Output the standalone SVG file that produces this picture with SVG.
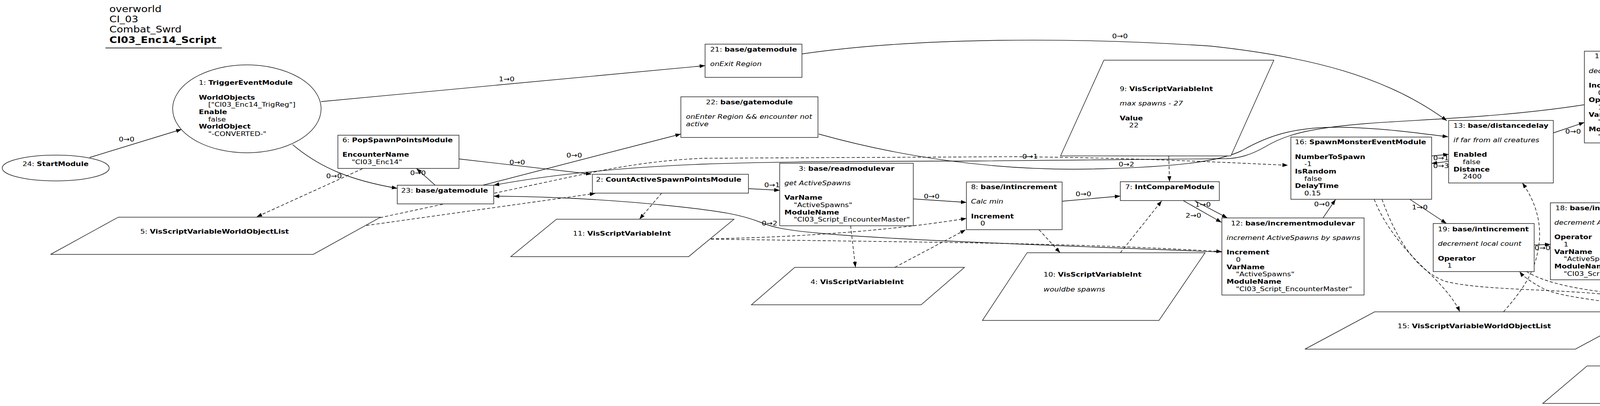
<svg xmlns="http://www.w3.org/2000/svg" width="4527" height="1039" viewBox="0 0 4527 1039">
<style>
.t{font-family:"DejaVu Sans","Liberation Sans",sans-serif;font-size:16px;fill:#000}
.b{font-weight:bold}
.i{font-style:italic}
.m{text-anchor:middle}
.ttl{font-family:"DejaVu Sans","Liberation Sans",sans-serif;font-size:22.5px;fill:#000}
.n{fill:#fff;stroke:#222;stroke-width:1.5}
.e{fill:none;stroke:#000;stroke-width:1.4}
.d{fill:none;stroke:#000;stroke-width:1.4;stroke-dasharray:8,5}
</style>
<defs>
<marker id="ah" markerUnits="userSpaceOnUse" markerWidth="15" markerHeight="11" refX="14" refY="5" orient="auto">
<path d="M0,0 L14,5 L0,10 z" fill="#000"/>
</marker>
</defs>
<rect x="0" y="0" width="4527" height="1039" fill="#fff"/>

<g id="title">
<text class="ttl" transform="translate(280,30.5) scale(1.19,1)"><tspan x="0" y="0">overworld</tspan><tspan x="0" y="26.5">CI_03</tspan><tspan x="0" y="53">Combat_Swrd</tspan><tspan x="0" y="79.5" class="b">CI03_Enc14_Script</tspan></text>
<line x1="270" y1="122.7" x2="568" y2="122.7" stroke="#555" stroke-width="2.5"/>
</g>

<g id="edges">
<path class="e" d="M229.6,403 L465,331" marker-end="url(#ah)"/>
<path class="e" d="M822,260 L1805,168" marker-end="url(#ah)"/>
<path class="e" d="M749,370 C820,430 900,462 1017,482" marker-end="url(#ah)"/>
<path class="e" d="M1114,474 L1066,431" marker-end="url(#ah)"/>
<path class="e" d="M1175,406.7 L1514,445.7" marker-end="url(#ah)"/>
<path class="e" d="M1236,474 L1743,343" marker-end="url(#ah)"/>
<path class="e" d="M1916,482.7 L1996,487" marker-end="url(#ah)"/>
<path class="e" d="M2338,509 L2474,518" marker-end="url(#ah)"/>
<path class="e" d="M2719,515 L2868,501.7" marker-end="url(#ah)"/>
<path class="e" d="M3058,513.3 L3142,557.7" marker-end="url(#ah)"/>
<path class="e" d="M3029,513.3 L3127,569" marker-end="url(#ah)"/>
<path class="e" d="M3387,557.7 L3419,510.5" marker-end="url(#ah)"/>
<path class="e" d="M3665,399 L3708.5,395" marker-end="url(#ah)"/>
<path class="e" d="M3708.5,413 L3665,418.3" marker-end="url(#ah)"/>
<path class="e" d="M3977,340 L4056,313.3" marker-end="url(#ah)"/>
<path class="e" d="M3609,510 L3703,572" marker-end="url(#ah)"/>
<path class="e" d="M3927.5,627 L3969,625.5" marker-end="url(#ah)"/>
<path class="e" d="M2053,138 C2350,95 2750,95 3100,118 C3350,145 3550,195 3704,309" marker-end="url(#ah)"/>
<path class="e" d="M4056,268 C3850,300 3650,305 3500,316 C3350,328 3290,345 3240,375 C3200,398 3170,405 3140,406 L2500,412 C2200,413 2000,413 1800,420 C1600,428 1420,445 1264,474" marker-end="url(#ah)"/>
<path class="e" d="M2096,343 C2300,400 2550,440 2819,432 C3000,427 3120,415 3180,385 C3250,345 3320,322 3454,326 C3560,330 3640,342 3707,350" marker-end="url(#ah)"/>
<path class="e" d="M3128,645 C2700,628 2300,615 2100,597 C2000,588 1975,580 1950,570 C1900,550 1850,540 1700,525 C1550,510 1400,503 1264,502" marker-end="url(#ah)"/>

<path class="d" d="M928,431.7 L657,555" marker-end="url(#ah)"/>
<path class="d" d="M938,577 L1524,495" marker-end="url(#ah)"/>
<path class="d" d="M973,557 L1450,455 C1550,434 1650,412 1800,405 L2600,401 C2900,404 3100,414 3297,423" marker-end="url(#ah)"/>
<path class="d" d="M1694,494 L1637,561" marker-end="url(#ah)"/>
<path class="d" d="M2177.6,577.7 L2190,684" marker-end="url(#ah)"/>
<path class="d" d="M2291,684 L2472,588" marker-end="url(#ah)"/>
<path class="d" d="M1820,611 C2000,608 2250,595 2474,559" marker-end="url(#ah)"/>
<path class="d" d="M1820,612 L2400,620 C2800,626 3000,636 3128,644" marker-end="url(#ah)"/>
<path class="d" d="M2992,399 L2994,465" marker-end="url(#ah)"/>
<path class="d" d="M2868,647 L2974,514" marker-end="url(#ah)"/>
<path class="d" d="M2660,588 L2714,647" marker-end="url(#ah)"/>
<path class="d" d="M3518,510 C3545,580 3600,645 3660,700 C3700,740 3725,770 3737,798" marker-end="url(#ah)"/>
<path class="d" d="M3538,510 C3570,600 3620,690 3700,720 C3800,745 4000,738 4150,758 C4215,770 4232,800 4236,936" marker-end="url(#ah)"/>
<path class="d" d="M4228,936 C4226,850 4222,805 4200,792 C4150,770 4000,765 3950,738 C3920,722 3900,708 3890,695" marker-end="url(#ah)"/>
<path class="d" d="M3908,695 C3940,715 4000,735 4112,748 C4200,762 4240,790 4245,936" marker-end="url(#ah)"/>
<path class="d" d="M4256,936 C4290,840 4325,700 4325,620 C4325,520 4300,420 4284,366" marker-end="url(#ah)"/>
<path class="d" d="M3849,798 C3900,740 3935,690 3941,613 C3945,550 3920,500 3897,468" marker-end="url(#ah)"/>

<text class="t" transform="translate(304,362) scale(1.19,1)">0→0</text>
<text class="t" transform="translate(1277,208) scale(1.19,1)">1→0</text>
<text class="t" transform="translate(835,456) scale(1.19,1)">0→0</text>
<text class="t" transform="translate(1050,448) scale(1.19,1)">0→0</text>
<text class="t" transform="translate(1304,420.7) scale(1.19,1)">0→0</text>
<text class="t" transform="translate(1450,403) scale(1.19,1)">0→0</text>
<text class="t" transform="translate(1956.5,479.3) scale(1.19,1)">0→1</text>
<text class="t" transform="translate(2365,508) scale(1.19,1)">0→0</text>
<text class="t" transform="translate(2753.5,501.7) scale(1.19,1)">0→0</text>
<text class="t" transform="translate(3059.5,529) scale(1.19,1)">1→0</text>
<text class="t" transform="translate(3035,556.7) scale(1.19,1)">2→0</text>
<text class="t" transform="translate(3364,528) scale(1.19,1)">0→0</text>
<text class="t" transform="translate(3669,410) scale(1.19,1)">0→1</text>
<text class="t" transform="translate(3669,430) scale(1.19,1)">0→3</text>
<text class="t" transform="translate(4007,341.7) scale(1.19,1)">0→0</text>
<text class="t" transform="translate(3614.6,536) scale(1.19,1)">1→0</text>
<text class="t" transform="translate(3928.6,640) scale(1.19,1)">0→0</text>
<text class="t" transform="translate(2847,98) scale(1.19,1)">0→0</text>
<text class="t" transform="translate(2617,406) scale(1.19,1)">0→1</text>
<text class="t" transform="translate(2863.5,426) scale(1.19,1)">0→2</text>
<text class="t" transform="translate(1950,577) scale(1.19,1)">0→2</text>
</g>

<g id="node24">
<ellipse class="n" cx="142.6" cy="430" rx="137" ry="33"/>
<text class="t" transform="translate(57.4,425) scale(1.19,1)">24: <tspan class="b">StartModule</tspan></text>
</g>

<g id="node1">
<ellipse class="n" cx="632" cy="278.5" rx="190" ry="112.5"/>
<text class="t" transform="translate(509,217.3) scale(1.19,1)"><tspan x="0" y="0">1: <tspan class="b">TriggerEventModule</tspan></tspan><tspan x="0" y="37.3" class="b">WorldObjects</tspan><tspan x="20.2" y="56">["CI03_Enc14_TrigReg"]</tspan><tspan x="0" y="74.7" class="b">Enable</tspan><tspan x="20.2" y="93.3">false</tspan><tspan x="0" y="112" class="b">WorldObject</tspan><tspan x="20.2" y="130.7">"-CONVERTED-"</tspan></text>
</g>

<g id="node21">
<rect class="n" x="1805" y="113" width="248" height="85"/>
<text class="t" transform="translate(1818,131.7) scale(1.19,1)"><tspan x="0" y="0">21: <tspan class="b">base/gatemodule</tspan></tspan><tspan x="0" y="37.3" class="i">onExit Region</tspan></text>
</g>

<g id="node22">
<rect class="n" x="1743" y="247.7" width="351" height="104"/>
<text class="t m" transform="translate(1918.5,266.7) scale(1.19,1)">22: <tspan class="b">base/gatemodule</tspan></text>
<text class="t i" transform="translate(1756,304) scale(1.19,1)"><tspan x="0" y="0">onEnter Region &amp;&amp; encounter not</tspan><tspan x="0" y="18.7">active</tspan></text>
</g>

<g id="node6">
<rect class="n" x="865" y="346" width="310" height="85"/>
<text class="t" transform="translate(876.5,364) scale(1.19,1)"><tspan x="0" y="0">6: <tspan class="b">PopSpawnPointsModule</tspan></tspan><tspan x="0" y="37.3" class="b">EncounterName</tspan><tspan x="20.2" y="56">"CI03_Enc14"</tspan></text>
</g>

<g id="node23">
<rect class="n" x="1017" y="474" width="247" height="47.7"/>
<text class="t" transform="translate(1027,492.7) scale(1.19,1)">23: <tspan class="b">base/gatemodule</tspan></text>
</g>

<g id="node2">
<rect class="n" x="1516.5" y="446" width="399.5" height="48.3"/>
<text class="t" transform="translate(1525.7,465) scale(1.19,1)">2: <tspan class="b">CountActiveSpawnPointsModule</tspan></text>
</g>

<g id="node3">
<rect class="n" x="1996" y="417.7" width="342" height="160"/>
<text class="t m" transform="translate(2167,436.7) scale(1.19,1)">3: <tspan class="b">base/readmodulevar</tspan></text>
<text class="t" transform="translate(2008,474) scale(1.19,1)"><tspan x="0" y="0" class="i">get ActiveSpawns</tspan><tspan x="0" y="37.3" class="b">VarName</tspan><tspan x="20.2" y="56">"ActiveSpawns"</tspan><tspan x="0" y="74.7" class="b">ModuleName</tspan><tspan x="20.2" y="93.3">"CI03_Script_EncounterMaster"</tspan></text>
</g>

<g id="node8">
<rect class="n" x="2474" y="465.7" width="245" height="122"/>
<text class="t" transform="translate(2485.7,484) scale(1.19,1)"><tspan x="0" y="0">8: <tspan class="b">base/intincrement</tspan></tspan><tspan x="0" y="37.3" class="i">Calc min</tspan><tspan x="0" y="74.7" class="b">Increment</tspan><tspan x="20.2" y="93.3">0</tspan></text>
</g>

<g id="node7">
<rect class="n" x="2868" y="465" width="253.5" height="48.3"/>
<text class="t" transform="translate(2880.5,484) scale(1.19,1)">7: <tspan class="b">IntCompareModule</tspan></text>
</g>

<g id="node12">
<rect class="n" x="3128" y="557.7" width="364" height="197.3"/>
<text class="t m" transform="translate(3310,576.7) scale(1.19,1)">12: <tspan class="b">base/incrementmodulevar</tspan></text>
<text class="t" transform="translate(3140,614) scale(1.19,1)"><tspan x="0" y="0" class="i">increment ActiveSpawns by spawns</tspan><tspan x="0" y="37.3" class="b">Increment</tspan><tspan x="20.2" y="56">0</tspan><tspan x="0" y="74.7" class="b">VarName</tspan><tspan x="20.2" y="93.3">"ActiveSpawns"</tspan><tspan x="0" y="112" class="b">ModuleName</tspan><tspan x="20.2" y="130.7">"CI03_Script_EncounterMaster"</tspan></text>
</g>

<g id="node16">
<rect class="n" x="3304.6" y="350.7" width="360.4" height="159.3"/>
<text class="t" transform="translate(3315,369.3) scale(1.19,1)"><tspan x="0" y="0">16: <tspan class="b">SpawnMonsterEventModule</tspan></tspan><tspan x="0" y="37.3" class="b">NumberToSpawn</tspan><tspan x="20.2" y="56">-1</tspan><tspan x="0" y="74.7" class="b">IsRandom</tspan><tspan x="20.2" y="93.3">false</tspan><tspan x="0" y="112" class="b">DelayTime</tspan><tspan x="20.2" y="130.7">0.15</tspan></text>
</g>

<g id="node13">
<rect class="n" x="3708.5" y="308.3" width="268" height="160"/>
<text class="t" transform="translate(3720.7,326.7) scale(1.19,1)"><tspan x="0" y="0">13: <tspan class="b">base/distancedelay</tspan></tspan><tspan x="0" y="37.3" class="i">if far from all creatures</tspan><tspan x="0" y="74.7" class="b">Enabled</tspan><tspan x="20.2" y="93.3">false</tspan><tspan x="0" y="112" class="b">Distance</tspan><tspan x="20.2" y="130.7">2400</tspan></text>
</g>

<g id="node17">
<rect class="n" x="4056" y="131" width="370.7" height="234.7"/>
<text class="t m" transform="translate(4241,149.3) scale(1.19,1)">17: <tspan class="b">base/incrementmodulevar</tspan></text>
<text class="t" transform="translate(4067,186.7) scale(1.19,1)"><tspan x="0" y="0" class="i">decrement ActiveSpawns by spawns</tspan><tspan x="0" y="37.3" class="b">Increment</tspan><tspan x="20.2" y="56">0</tspan><tspan x="0" y="74.7" class="b">Operator</tspan><tspan x="20.2" y="93.3">1</tspan><tspan x="0" y="112" class="b">VarName</tspan><tspan x="20.2" y="130.7">"ActiveSpawns"</tspan><tspan x="0" y="149.3" class="b">ModuleName</tspan><tspan x="20.2" y="168">"CI03_Script_EncounterMaster"</tspan></text>
</g>

<g id="node18">
<rect class="n" x="3969" y="519" width="343" height="197"/>
<text class="t m" transform="translate(4140.5,537.8) scale(1.19,1)">18: <tspan class="b">base/incrementmodulevar</tspan></text>
<text class="t" transform="translate(3979,575) scale(1.19,1)"><tspan x="0" y="0" class="i">decrement ActiveSpawns by 1</tspan><tspan x="0" y="37.3" class="b">Operator</tspan><tspan x="20.2" y="56">1</tspan><tspan x="0" y="74.7" class="b">VarName</tspan><tspan x="20.2" y="93.3">"ActiveSpawns"</tspan><tspan x="0" y="112" class="b">ModuleName</tspan><tspan x="20.2" y="130.7">"CI03_Script_EncounterMaster"</tspan></text>
</g>

<g id="node19">
<rect class="n" x="3669" y="572" width="258.5" height="123"/>
<text class="t" transform="translate(3681,592) scale(1.19,1)"><tspan x="0" y="0">19: <tspan class="b">base/intincrement</tspan></tspan><tspan x="0" y="37.3" class="i">decrement local count</tspan><tspan x="0" y="74.7" class="b">Operator</tspan><tspan x="20.2" y="93.3">1</tspan></text>
</g>

<g id="node9">
<polygon class="n" points="2826,154 3261,154 3151,399 2715,399"/>
<text class="t" transform="translate(2866.5,233) scale(1.19,1)"><tspan x="0" y="0">9: <tspan class="b">VisScriptVariableInt</tspan></tspan><tspan x="0" y="37.3" class="i">max spawns - 27</tspan><tspan x="0" y="74.7" class="b">Value</tspan><tspan x="20.2" y="93.3">22</tspan></text>
</g>

<g id="node10">
<polygon class="n" points="2629.5,646.7 3085,646.7 2967,820 2515,820"/>
<text class="t" transform="translate(2671.6,708.3) scale(1.19,1)"><tspan x="0" y="0">10: <tspan class="b">VisScriptVariableInt</tspan></tspan><tspan x="0" y="37.3" class="i">wouldbe spawns</tspan></text>
</g>

<g id="node5">
<polygon class="n" points="303,555.7 974.5,555.7 802,651 129.5,651"/>
<text class="t" transform="translate(359,598) scale(1.19,1)">5: <tspan class="b">VisScriptVariableWorldObjectList</tspan></text>
</g>

<g id="node11">
<polygon class="n" points="1424.7,561 1879,561 1763,656.7 1307.7,656.7"/>
<text class="t" transform="translate(1466.8,603.3) scale(1.19,1)">11: <tspan class="b">VisScriptVariableInt</tspan></text>
</g>

<g id="node4">
<polygon class="n" points="2034.5,684.3 2469,684.3 2358,780 1923.6,780"/>
<text class="t" transform="translate(2075,727.3) scale(1.19,1)">4: <tspan class="b">VisScriptVariableInt</tspan></text>
</g>

<g id="node15">
<polygon class="n" points="3519,798 4210,798 4033,893.5 3340.7,893.5"/>
<text class="t" transform="translate(3577.8,840) scale(1.19,1)">15: <tspan class="b">VisScriptVariableWorldObjectList</tspan></text>
</g>

<g id="node20">
<polygon class="n" points="4063,936.4 4520.7,936.4 4403,1032.6 3949.5,1032.6"/>
<text class="t" transform="translate(4106,979.4) scale(1.19,1)">20: <tspan class="b">VisScriptVariableInt</tspan></text>
</g>
</svg>
